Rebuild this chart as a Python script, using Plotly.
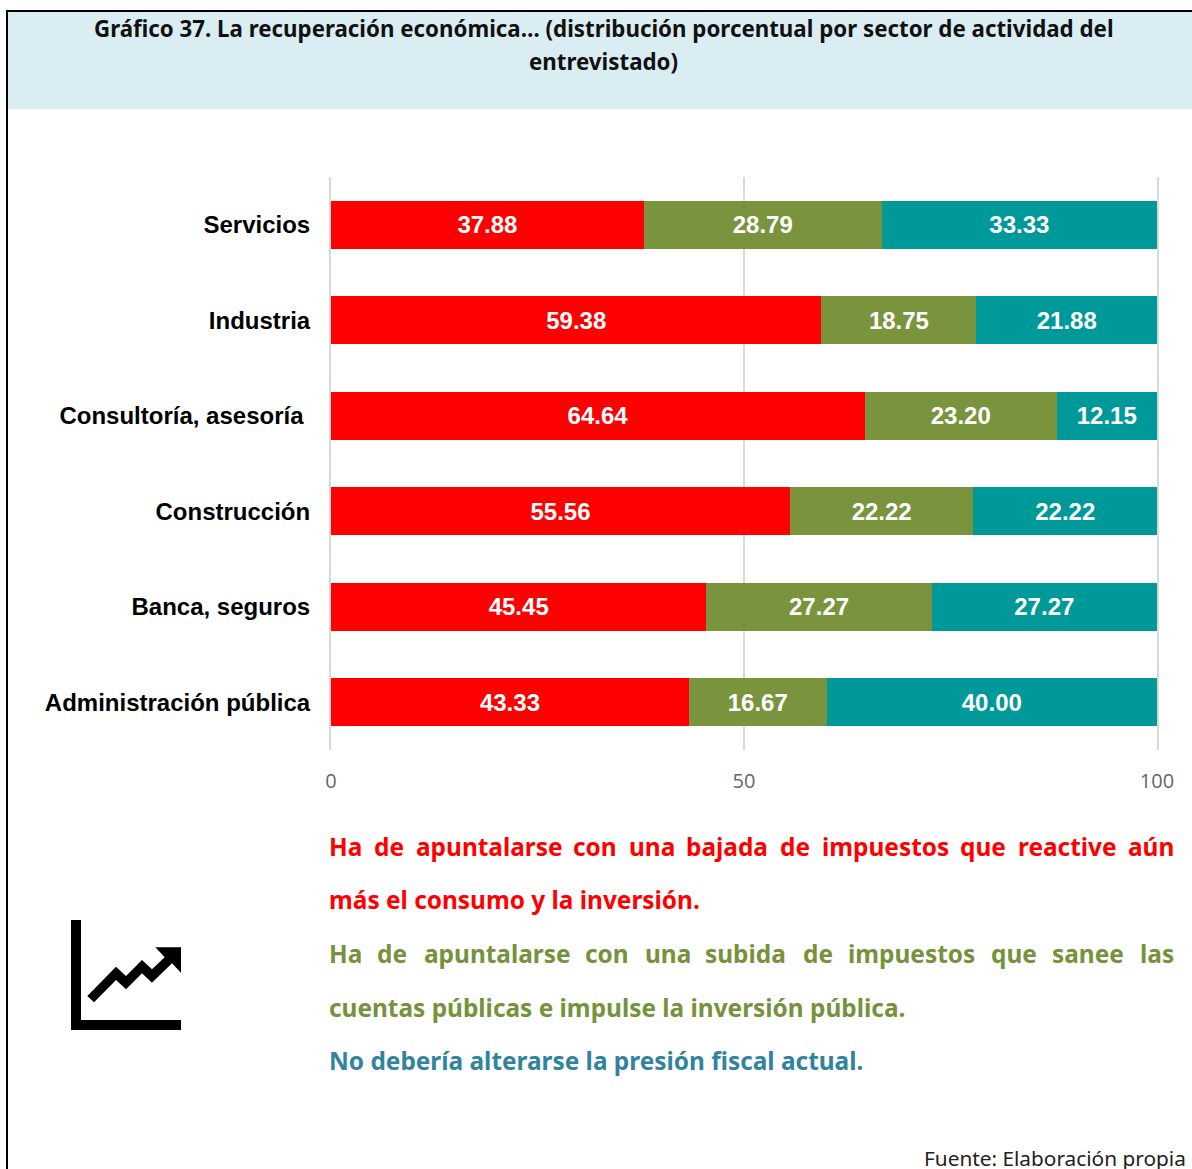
import plotly.graph_objects as go

W, H = 1192, 1169
ML, MR, MT, MB = 331, 35, 177, 419

categories = ["Servicios", "Industria", "Consultoría, asesoría\u00a0", "Construcción", "Banca, seguros", "Administración pública"]
s_baja = [37.88, 59.38, 64.64, 55.56, 45.45, 43.33]
s_sube = [28.79, 18.75, 23.20, 22.22, 27.27, 16.67]
s_igual = [33.33, 21.88, 12.15, 22.22, 27.27, 40.00]
tick_vals = [0, 50, 100]
names = ["Ha de apuntalarse con una bajada de impuestos que reactive aún más el consumo y la inversión.",
         "Ha de apuntalarse con una subida de impuestos que sanee las cuentas públicas e impulse la inversión pública.",
         "No debería alterarse la presión fiscal actual."]
RED, GREEN, TEAL, TEXT_GREEN, TEXT_TEAL = "#FF0000", "#7A943E", "#009999", "#76923C", "#31849B"
GRID = "#D9D9D9"

def px(x): return (x - ML) / (W - ML - MR)
def py(y): return 1 - (y - MT) / (H - MT - MB)

fig = go.Figure()
for name, vals, col in zip(names, [s_baja, s_sube, s_igual], [RED, GREEN, TEAL]):
    fig.add_bar(y=categories, x=vals, name=name, orientation="h", marker=dict(color=col, line_width=0),
                texttemplate="%{x:.2f}", textposition="inside", insidetextanchor="middle", textangle=0,
                constraintext="none",
                textfont=dict(family="Liberation Sans", size=24, color="white", weight="bold"))

shapes = [
    dict(type="rect", xref="paper", yref="paper", x0=px(8), x1=px(1192), y0=py(12), y1=py(109), fillcolor="#DAEDF3", line_width=0, layer="below"),
    dict(type="line", xref="paper", yref="paper", x0=px(7), x1=px(7), y0=py(11), y1=py(1169), line=dict(color="black", width=2)),
    dict(type="line", xref="paper", yref="paper", x0=px(6), x1=px(1192), y0=py(11), y1=py(11), line=dict(color="black", width=2)),
]
L_pts = [(71, 920), (81, 920), (81, 1020), (181, 1020), (181, 1030), (71, 1030)]
A_z = [(142,288),(228,200),(258,228),(306,180),(336,208),(374,172),(346,142),(423,142),(423,218),(396,190),(336,248),(306,220),(258,268),(228,240),(162,307)]
A_pts = [(40 + a / 3, 900 + b / 3) for a, b in A_z]
for pts in (L_pts, A_pts):
    d = "M " + " L ".join(f"{px(a):.5f},{py(b):.5f}" for a, b in pts) + " Z"
    shapes.append(dict(type="path", xref="paper", yref="paper", path=d, fillcolor="black", line_width=0))

anns = []
def txt(s, x, y, size, color, anchor="left", bold=True, fam="Noto Sans"):
    t = f"<b>{s}</b>" if bold else s
    anns.append(dict(text=t, xref="paper", yref="paper", x=px(x), y=py(y), xanchor=anchor, yanchor="middle",
                     showarrow=False, font=dict(family=fam, size=size, color=color), borderpad=0, borderwidth=0))

TS, BS = 22.3, 24.4
txt("Gráfico 37. La recuperación económica… (distribución porcentual por sector de actividad del", 604, 28, TS, "#111111", "center")
txt("entrevistado)", 603, 62, TS, "#111111", "center")
for w, x in zip("Ha de apuntalarse con una bajada de impuestos que reactive aún".split(),
                [329, 374, 416, 573, 629, 686, 780, 822, 960, 1018, 1128]):
    txt(w, x, 846, BS, RED)
txt("más el consumo y la inversión.", 329, 899, BS, RED)
for w, x in zip("Ha de apuntalarse con una subida de impuestos que sanee las".split(),
                [329, 377, 424, 585, 645, 705, 803, 848, 991, 1052, 1140]):
    txt(w, x, 953, BS, TEXT_GREEN)
txt("cuentas públicas e impulse la inversión pública.", 329, 1007, BS, TEXT_GREEN)
txt("No debería alterarse la presión fiscal actual.", 329, 1060, BS, TEXT_TEAL)
txt("Fuente: Elaboración propia", 1186, 1158, 20.8, "#222222", "right", bold=False)

fig.update_layout(
    width=W, height=H, autosize=False, barmode="stack", bargap=0.5, showlegend=False,
    plot_bgcolor="white", paper_bgcolor="white",
    margin=dict(l=ML, r=MR, t=MT, b=MB, pad=0),
    shapes=shapes, annotations=anns,
    xaxis=dict(range=[0, 100], tickvals=tick_vals, showgrid=True, gridcolor=GRID, gridwidth=2,
               zeroline=False, showline=False, ticks="", ticklabelstandoff=17,
               tickfont=dict(family="Open Sans", size=20, color="#666666")),
    yaxis=dict(categoryorder="array", categoryarray=categories[::-1], autorange=False, range=[-0.5, 5.5],
               showgrid=False, zeroline=False, showline=True, mirror=True, linecolor=GRID, linewidth=2,
               ticks="", ticklabelstandoff=14,
               tickfont=dict(family="Liberation Sans", size=24, color="black", weight="bold")),
)
fig.write_html("out.html", config={"displayModeBar": False},
               post_script="document.body.style.margin='0';document.documentElement.style.overflow='hidden';")
